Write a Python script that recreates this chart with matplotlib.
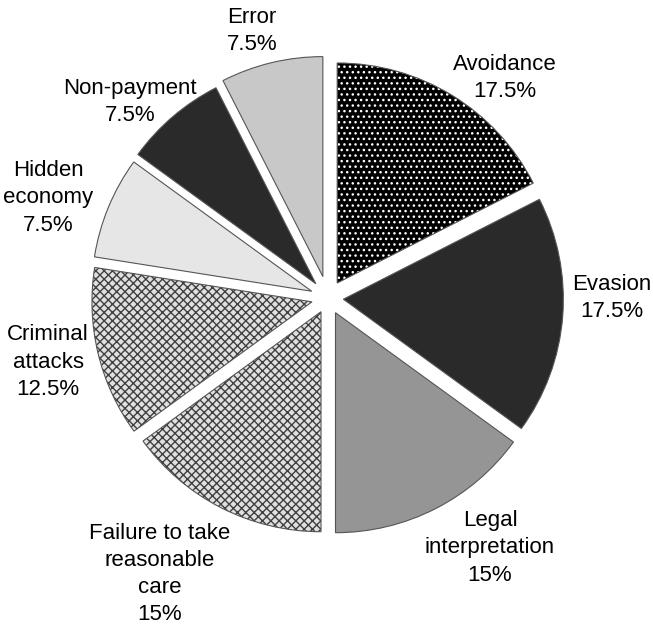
import matplotlib
matplotlib.use("Agg")
import matplotlib.pyplot as plt

plt.rcParams['font.family'] = ['Liberation Sans', 'DejaVu Sans']
plt.rcParams['hatch.linewidth'] = 1.0

categories = ["Avoidance", "Evasion", "Legal\ninterpretation", "Failure to take\nreasonable\ncare",
              "Criminal\nattacks", "Hidden\neconomy", "Non-payment", "Error"]
values = [17.5, 17.5, 15, 15, 12.5, 7.5, 7.5, 7.5]
pct_labels = ["17.5%", "17.5%", "15%", "15%", "12.5%", "7.5%", "7.5%", "7.5%"]

face_colors = ["#000000", "#2a2a2a", "#959595", "#e0e0e0", "#e0e0e0", "#e6e6e6", "#2a2a2a", "#c8c8c8"]
hatches = ["...", None, None, "xxxx", "xxxx", None, None, None]
hatch_colors = ["#ffffff", None, None, "#404040", "#404040", None, None, None]
explode_frac = [0.08, 0.07, 0.075, 0.07, 0.075, 0.08, 0.085, 0.1]

# label anchor positions (pixels from top-left)
label_pos = [(505, 78), (612, 298), (490, 548), (160, 574), (48, 362), (48, 198), (130, 102), (252, 31)]

W, H = 653, 629
fig = plt.figure(figsize=(W / 100, H / 100), dpi=100)
ax = fig.add_axes([0, 0, 1, 1])

center = (328, H - 298)
radius = 220
explode = [e * radius for e in explode_frac]

wedges, _ = ax.pie(values, explode=explode, startangle=90, counterclock=False,
                   center=center, radius=radius, frame=True)
for w, fc, h, hc in zip(wedges, face_colors, hatches, hatch_colors):
    w.set_facecolor(fc)
    w.set_linewidth(0)
    if h:
        w.set_hatch(h)
        w.set_edgecolor(hc)

outl, _ = ax.pie(values, explode=explode, startangle=90, counterclock=False,
                 center=center, radius=radius, frame=True)
for w in outl:
    w.set_facecolor('none')
    w.set_edgecolor('#555555')
    w.set_linewidth(0.8)

ax.set_xlim(0, W)
ax.set_ylim(0, H)
ax.set_aspect('equal')
ax.axis('off')

for cat, pct, (x, y) in zip(categories, pct_labels, label_pos):
    ax.text(x, H - y, cat + "\n" + pct, ha='center', va='center', fontsize=16,
            color='#000000', linespacing=1.38)

fig.savefig("out.png", dpi=100)
